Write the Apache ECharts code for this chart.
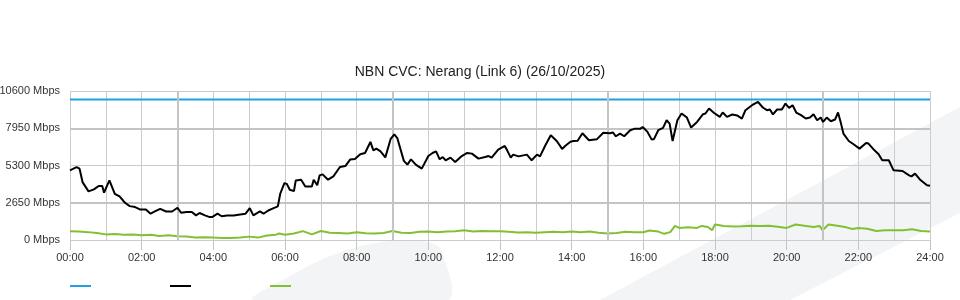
<!DOCTYPE html>
<html>
<head>
<meta charset="utf-8">
<style>html,body{margin:0;padding:0;background:#fff}#c{width:960px;height:300px}</style>
<script src="https://cdn.jsdelivr.net/npm/echarts@6/dist/echarts.min.js"></script>
</head>
<body>
<div id="c"></div>
<script>
const titleText = 'NBN CVC: Nerang (Link 6) (26/10/2025)';
const yTicks = [0, 2650, 5300, 7950, 10600];
const xTickLabels = ['00:00','02:00','04:00','06:00','08:00','10:00','12:00','14:00','16:00','18:00','20:00','22:00','24:00'];
const majorGridMinutes = [180, 540, 900, 1260];
const majorGridMbps = [2650, 7950];

const capacityMinutes = [0, 1440];
const capacityMbps = [10000, 10000];

const trafficMinutes = [0,11,16,21,31,40,48,54,57,66,75,83,92,100,109,117,127,135,142,151,161,171,180,186,195,204,211,217,226,234,238,247,254,263,274,285,294,301,307,318,324,332,341,348,352,359,363,368,375,378,387,394,405,408,414,418,423,432,441,452,461,469,477,486,494,503,508,513,520,528,537,543,548,559,565,571,574,579,589,600,607,613,619,624,629,637,645,648,656,665,673,684,695,701,706,717,728,732,738,742,751,765,773,782,787,796,805,807,815,824,830,838,843,850,858,869,882,893,904,909,914,921,928,938,946,955,959,967,974,978,985,993,999,1004,1009,1017,1024,1033,1040,1050,1060,1064,1070,1078,1088,1093,1100,1109,1117,1125,1131,1142,1145,1152,1160,1167,1172,1177,1184,1192,1198,1204,1210,1216,1224,1232,1239,1245,1251,1257,1261,1267,1274,1281,1286,1291,1295,1304,1312,1322,1325,1333,1337,1347,1354,1360,1371,1379,1394,1405,1409,1415,1423,1435,1440];
const trafficMbps = [4955,5190,5075,4120,3460,3600,3840,3840,3365,4240,3290,3100,2650,2410,2340,2175,2175,1870,2030,2220,2030,2030,2295,1940,1990,1990,1750,1920,1750,1630,1630,1870,1690,1750,1750,1820,1870,2270,1750,2030,1870,2100,2270,2390,3290,4050,3990,3580,3480,4240,4290,3810,3810,4290,3890,4600,4670,4290,4530,5190,5260,5720,5760,6100,6190,6975,6380,6500,6300,5880,7200,7510,7250,5630,5360,5740,5740,5360,5075,5975,6190,6310,5740,5900,5670,5860,5550,5550,5975,6190,6145,5790,5900,5975,5860,6430,6690,6380,5860,6075,5950,6075,5670,6075,5950,6740,7450,7500,7040,6480,6720,6990,7040,7060,7590,7095,7160,7630,7600,7650,7380,7570,7380,7810,7920,7920,8040,7690,7140,7190,7810,7975,8520,8280,7045,8520,9000,8710,8000,8400,8950,9000,9355,9050,8760,9070,8760,8930,8860,8640,9235,9590,9590,9825,9425,9235,9285,8930,9285,9285,9710,9400,9590,9070,8880,8640,8710,8950,8520,8710,8400,8710,8450,8570,9070,8280,7570,7045,6810,6500,6500,6900,6860,6380,6095,5670,5670,4955,4910,4600,4530,4720,4310,3890,3860];

const otherMinutes = [0,15,30,45,60,75,90,105,120,135,150,165,180,195,210,225,240,255,270,285,300,315,330,345,350,360,375,390,405,420,435,450,465,480,495,510,525,540,555,570,585,600,615,630,645,660,675,690,705,720,735,750,765,780,795,810,825,840,855,870,885,900,915,930,945,960,970,985,995,1005,1013,1020,1035,1050,1058,1068,1075,1080,1095,1110,1125,1140,1155,1170,1185,1200,1215,1230,1245,1255,1260,1270,1285,1300,1310,1320,1335,1350,1365,1380,1395,1410,1425,1440];
const otherMbps = [630,600,560,500,400,420,370,390,330,370,290,330,260,250,170,200,170,150,150,170,240,170,320,380,460,380,460,630,400,640,520,500,460,550,480,460,500,640,520,500,580,600,560,600,620,700,600,640,620,630,580,540,560,520,560,580,560,600,560,600,520,460,500,580,560,550,680,600,440,560,1010,860,900,860,1000,920,700,1100,1000,960,980,1010,1000,1010,950,860,1100,1010,930,1000,700,1100,1010,900,780,860,800,640,700,700,700,760,640,600];

const zip = (a, b) => a.map((v, i) => [v, b[i]]);
const FONT = 'Liberation Sans, Arial, sans-serif';
const majorLines = majorGridMinutes.map(m => ({xAxis: m})).concat(majorGridMbps.map(v => ({yAxis: v})));

const chart = echarts.init(document.getElementById('c'), null, {renderer: 'canvas'});
chart.setOption({
  animation: false,
  backgroundColor: '#fff',
  title: {
    text: titleText, left: 'center', top: 60,
    textStyle: {fontFamily: FONT, fontSize: 14, fontWeight: 'normal', color: '#222'}
  },
  graphic: [
    {type: 'polygon', z: -100, silent: true,
     shape: {points: [[600,300],[960,107],[960,213],[790,300]]},
     style: {fill: '#f3f4f6'}},
    {type: 'polygon', z: -100, silent: true,
     shape: {smooth: 0.3, points: [[253,300],[290,276],[330,256],[370,244],[410,240],[438,246],[446,265],[452,286],[448,300]]},
     style: {fill: '#f3f4f6'}}
  ],
  legend: {
    left: 65, top: 280, icon: 'rect', itemWidth: 21, itemHeight: 2, itemGap: 79,
    formatter: () => '', selectedMode: false,
    data: ['Capacity', 'Traffic', 'Other']
  },
  grid: {left: 70, right: 30, top: 91, bottom: 60, containLabel: false, outerBoundsMode: 'none'},
  xAxis: [
    {type: 'value', min: 0, max: 1440, interval: 60,
     axisLine: {show: false}, axisTick: {show: false}, axisLabel: {show: false},
     splitLine: {show: true, lineStyle: {color: '#cccccc', width: 1}}},
    {type: 'value', min: 0, max: 1440, interval: 120, position: 'bottom',
     axisLine: {show: false},
     axisTick: {show: true, length: 10, lineStyle: {color: '#c4c4c4'}},
     axisLabel: {fontFamily: FONT, fontSize: 11, color: '#333', margin: 12,
       formatter: v => xTickLabels[Math.round(v / 120)]},
     splitLine: {show: false}}
  ],
  yAxis: {
    type: 'value', min: yTicks[0], max: yTicks[yTicks.length - 1], interval: yTicks[1] - yTicks[0],
    axisLine: {show: false}, axisTick: {show: false},
    axisLabel: {fontFamily: FONT, fontSize: 11, color: '#333', margin: 10,
      formatter: v => v + ' Mbps'},
    splitLine: {show: true, lineStyle: {color: '#cccccc', width: 1}}
  },
  series: [
    {name: 'Capacity', type: 'line', xAxisIndex: 0, data: zip(capacityMinutes, capacityMbps),
     showSymbol: false, lineStyle: {color: '#1ea3e0', width: 2}, itemStyle: {color: '#1ea3e0'}, z: 2,
     markLine: {silent: true, symbol: 'none', label: {show: false}, animation: false,
       lineStyle: {color: '#c4c4c4', width: 2, type: 'solid'}, emphasis: {disabled: true},
       data: majorLines}},
    {name: 'Other', type: 'line', xAxisIndex: 0, data: zip(otherMinutes, otherMbps),
     showSymbol: false, lineStyle: {color: '#80c033', width: 2}, itemStyle: {color: '#80c033'}, z: 4},
    {name: 'Traffic', type: 'line', xAxisIndex: 0, data: zip(trafficMinutes, trafficMbps),
     showSymbol: false, lineStyle: {color: '#000', width: 2}, itemStyle: {color: '#000'}, z: 5}
  ]
});
</script>
</body>
</html>
